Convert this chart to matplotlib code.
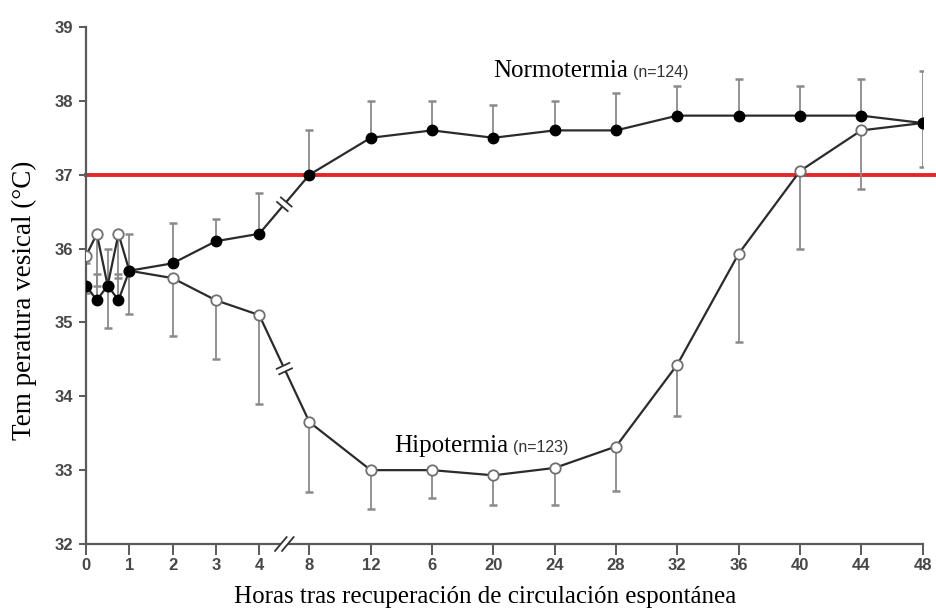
import numpy as np
import matplotlib
matplotlib.use("Agg")
import matplotlib.pyplot as plt
from matplotlib.transforms import IdentityTransform
from matplotlib.patches import Polygon

# Horas de medición (eje con corte entre 4 y 8 h)
horas = [0, 0.25, 0.5, 0.75, 1, 2, 3, 4, 8, 12, 16, 20, 24, 28, 32, 36, 40, 44, 48]

normo = [35.5, 35.3, 35.5, 35.3, 35.7, 35.8, 36.1, 36.2, 37.0, 37.5, 37.6,
         37.5, 37.6, 37.6, 37.8, 37.8, 37.8, 37.8, 37.7]
normo_err = [0.3, 0.35, 0.5, 0.35, 0.5, 0.55, 0.3, 0.55, 0.6, 0.5, 0.4,
             0.45, 0.4, 0.5, 0.4, 0.5, 0.4, 0.5, 0.7]

hipo = [35.9, 36.2, 35.5, 36.2, 35.7, 35.6, 35.3, 35.1, 33.65, 33.0, 33.0,
        32.93, 33.03, 33.32, 34.43, 35.93, 37.05, 37.6, 37.7]
hipo_err = [0.5, 0.7, 0.57, 0.6, 0.58, 0.78, 0.8, 1.2, 0.95, 0.52, 0.38,
            0.4, 0.5, 0.6, 0.7, 1.2, 1.05, 0.8, 0.6]

tick_horas = [0, 1, 2, 3, 4, 8, 12, 16, 20, 24, 28, 32, 36, 40, 44, 48]
tick_labels = ["0", "1", "2", "3", "4", "8", "12", "6", "20", "24", "28",
               "32", "36", "40", "44", "48"]
y_ticks = [32, 33, 34, 35, 36, 37, 38, 39]


def pos(h):
    # 0-4 h en escala lineal, despues del corte 8-48 h comprimido
    h = np.asarray(h, dtype=float)
    return np.where(h <= 4, h, 5.16 + (h - 8) * 0.354)


fig = plt.figure(figsize=(9.37, 6.12), dpi=100)
ax = fig.add_axes([86 / 937, 68 / 612, 836.6 / 937, 517 / 612])

x = pos(horas)
grey_line = "#2b2b2b"

# Hipotermia (circulos abiertos, barras hacia abajo)
ax.errorbar(x, hipo, yerr=[hipo_err, np.zeros(len(hipo))], fmt="none",
            ecolor="#8a8a8a", elinewidth=1.3, capsize=3, capthick=1.8, zorder=2)
ax.plot(x, hipo, "-", color=grey_line, lw=1.6, zorder=3)
ax.plot(x, hipo, "o", ms=7.5, mfc="white", mec="#6f6f6f", mew=1.3, zorder=4)

# Normotermia (circulos rellenos, barras hacia arriba)
ax.errorbar(x, normo, yerr=[np.zeros(len(normo)), normo_err], fmt="none",
            ecolor="#8a8a8a", elinewidth=1.3, capsize=3, capthick=1.8, zorder=2)
ax.plot(x, normo, "-", color=grey_line, lw=1.6, zorder=5)
ax.plot(x, normo, "o", ms=7.5, color="black", zorder=6)

# Linea de referencia 37 °C
ax.axhline(37, xmin=0, xmax=1.018, color="#e3262a", lw=2.8, zorder=1,
           clip_on=False)

ax.set_xlim(0, float(pos(48)))
ax.set_ylim(32, 39)
ax.set_xticks(pos(tick_horas))
ax.set_xticklabels(tick_labels)
ax.set_yticks(y_ticks)

for s in ["top", "right"]:
    ax.spines[s].set_visible(False)
for s in ["left", "bottom"]:
    ax.spines[s].set_color("#5a5a5a")
    ax.spines[s].set_linewidth(1.6)

ax.tick_params(axis="x", direction="out", length=8, width=1.4,
               color="#5a5a5a", pad=2)
ax.tick_params(axis="y", direction="out", length=5, width=1.4,
               color="#5a5a5a", pad=4)
for lab in ax.get_xticklabels() + ax.get_yticklabels():
    lab.set_fontfamily("Liberation Sans")
    lab.set_fontweight("bold")
    lab.set_fontsize(12)
    lab.set_color("#474747")

fig.text(485 / 937, 1 - 597 / 612,
         "Horas tras recuperación de circulación espontánea",
         family="Liberation Serif", fontsize=18, ha="center", va="center")
fig.text(24 / 937, 1 - 300 / 612, "Tem peratura vesical (°C)",
         family="Liberation Serif", fontsize=19.5, ha="center", va="center",
         rotation=90)

# Etiquetas de las series
t1 = ax.text(pos(20), 38.32, "Normotermia", family="Liberation Serif",
             fontsize=18, va="baseline", ha="left")
t2 = ax.text(pos(13.5), 33.25, "Hipotermia", family="Liberation Serif",
             fontsize=18, va="baseline", ha="left")
fig.canvas.draw()
r = fig.canvas.get_renderer()
for t, n in [(t1, "(n=124)"), (t2, "(n=123)")]:
    bb = t.get_window_extent(r)
    bx, by = ax.transData.transform(t.get_position())
    ax.text(bb.x1 + 5, by, n, transform=IdentityTransform(),
            family="Liberation Sans", fontsize=11.5, va="baseline", ha="left",
            color="#333333")


def corte(p0, p1, half=8, gap=3.0, zorder=7, ang=None):
    # dibuja el simbolo // de corte en coordenadas de pantalla
    p0 = np.array(p0)
    p1 = np.array(p1)
    d = (p1 - p0) / np.linalg.norm(p1 - p0)
    if ang is None:
        nrm = np.array([-d[1], d[0]])
    else:
        nrm = np.array([np.cos(np.radians(ang)), np.sin(np.radians(ang))])
    m = (p0 + p1) / 2
    a = m - d * gap
    b = m + d * gap
    poly = Polygon([a - nrm * half, a + nrm * half, b + nrm * half,
                    b - nrm * half], closed=True, fc="white", ec="none",
                   transform=IdentityTransform(), zorder=zorder)
    fig.add_artist(poly)
    for c in (a, b):
        ln = plt.Line2D([c[0] - nrm[0] * half, c[0] + nrm[0] * half],
                        [c[1] - nrm[1] * half, c[1] + nrm[1] * half],
                        color="#333333", lw=1.3, transform=IdentityTransform(),
                        zorder=zorder + 0.1)
        fig.add_artist(ln)


i4 = horas.index(4)
i8 = horas.index(8)
for serie in (normo, hipo):
    p4 = ax.transData.transform((x[i4], serie[i4]))
    p8 = ax.transData.transform((x[i8], serie[i8]))
    corte(p4, p8, half=7)

q4 = ax.transData.transform((pos(4), 32))
q8 = ax.transData.transform((pos(8), 32))
corte(q4, q8, half=9, gap=3.5, ang=50)

fig.savefig("out.png", dpi=100)
